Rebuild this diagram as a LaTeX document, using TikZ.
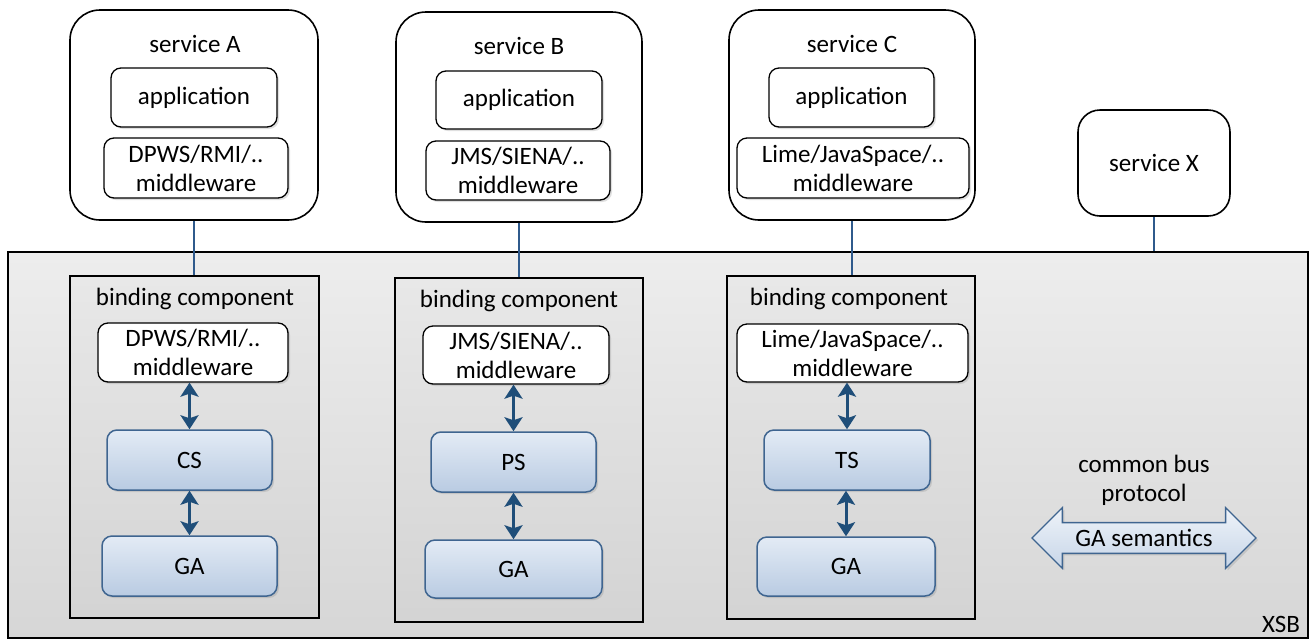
\documentclass[tikz,border=0pt]{standalone}
\usepackage{fontspec}
\setmainfont{Carlito}
\usetikzlibrary{arrows.meta,shapes.arrows,shadows}
\definecolor{linkblue}{HTML}{2F5A8C}
\definecolor{arrowblue}{HTML}{1F4E79}
\definecolor{boxblue}{HTML}{3F6590}
\definecolor{paleblue}{HTML}{E3EBF5}
\definecolor{softblue}{HTML}{B9CBE2}
\tikzset{
	txt/.style={font=\fontsize{25}{29}\selectfont, align=center, inner sep=0pt},
	svc/.style={draw, line width=1.6pt, rounded corners=30pt, fill=white},
	wbox/.style={txt, draw, line width=1.3pt, rounded corners=10pt, fill=white,
		drop shadow={opacity=0.25, shadow xshift=2pt, shadow yshift=-2pt}},
	pbox/.style={txt, draw=boxblue, line width=1.5pt, rounded corners=10pt,
		top color=paleblue, bottom color=softblue,
		drop shadow={opacity=0.25, shadow xshift=2pt, shadow yshift=-2pt}},
	bind/.style={draw, line width=1.5pt, top color=black!9, bottom color=black!17},
	link/.style={draw=linkblue, line width=1.3pt},
	dbl/.style={draw=arrowblue, line width=3pt,
		{Stealth[length=14pt,width=18pt,inset=3pt]}-{Stealth[length=14pt,width=18pt,inset=3pt]}}
}
\begin{document}
\begin{tikzpicture}[x=1pt,y=-1pt]
	\useasboundingbox (0,0) rectangle (1310,641);
%	% Bus
	\node[draw, line width=1.5pt, top color=black!7, bottom color=black!16,
		minimum width=1300, minimum height=386] (xsb) at (658,445) {};
	\node[txt] (xsblabel) at (1281,624) {XSB};
%	% Services
	\node[svc, minimum width=248, minimum height=210] (svcA) at (194,115) {};
	\node[svc, minimum width=246, minimum height=210] (svcB) at (519,117) {};
	\node[svc, minimum width=246, minimum height=210] (svcC) at (852,115) {};
	\node[svc, rounded corners=22pt, minimum width=152, minimum height=106, txt] (svcX) at (1154,163) {service X};
	\node[txt] (svcAlabel) at (195,44) {service A};
	\node[txt] (svcBlabel) at (519,46) {service B};
	\node[txt] (svcClabel) at (852,44) {service C};
	\node[wbox, minimum width=166, minimum height=59] (appA) at (194,97.5) {application};
	\node[wbox, minimum width=166, minimum height=58] (appB) at (519,100) {application};
	\node[wbox, minimum width=165, minimum height=59] (appC) at (851.5,97.5) {application};
	\node[wbox, minimum width=184, minimum height=60] (mwA) at (196,168) {DPWS/RMI/..\\middleware};
	\node[wbox, minimum width=184, minimum height=59] (mwB) at (518,170.5) {JMS/SIENA/..\\middleware};
	\node[wbox, minimum width=232, minimum height=60] (mwC) at (853,168) {Lime/JavaSpace/..\\middleware};
%	% Binding components
	\node[bind, minimum width=249, minimum height=342] (bindA) at (194.5,447) {};
	\node[bind, minimum width=248, minimum height=344] (bindB) at (519,450) {};
	\node[bind, minimum width=248, minimum height=343] (bindC) at (851,447.5) {};
	\node[txt] (bindAlabel) at (195,299) {binding component};
	\node[txt] (bindBlabel) at (519,301) {binding component};
	\node[txt] (bindClabel) at (849,299) {binding component};
	\node[wbox, minimum width=190, minimum height=59] (bmwA) at (193,352.5) {DPWS/RMI/..\\middleware};
	\node[wbox, minimum width=186, minimum height=58] (bmwB) at (516,355) {JMS/SIENA/..\\middleware};
	\node[wbox, minimum width=231, minimum height=58] (bmwC) at (852.5,353) {Lime/JavaSpace/..\\middleware};
	\node[pbox, minimum width=165, minimum height=60] (csA) at (189.5,460) {CS};
	\node[pbox, minimum width=165, minimum height=60] (psB) at (513.5,462) {PS};
	\node[pbox, minimum width=166, minimum height=60] (tsC) at (847,460) {TS};
	\node[pbox, minimum width=175, minimum height=60] (gaA) at (189.5,566) {GA};
	\node[pbox, minimum width=177, minimum height=58] (gaB) at (513.5,569) {GA};
	\node[pbox, minimum width=178, minimum height=59] (gaC) at (846,566.5) {GA};
%	% Links
	\draw[link] (svcA.south) -- (svcA.south |- bindA.north);
	\draw[link] (svcB.south) -- (svcB.south |- bindB.north);
	\draw[link] (svcC.south) -- (svcC.south |- bindC.north);
	\draw[link] (svcX.south) -- (svcX.south |- xsb.north);
	\draw[dbl] (csA.north) -- (csA.north |- bmwA.south);
	\draw[dbl] (gaA.north) -- (gaA.north |- csA.south);
	\draw[dbl] (psB.north) -- (psB.north |- bmwB.south);
	\draw[dbl] (gaB.north) -- (gaB.north |- psB.south);
	\draw[dbl] (tsC.north) -- (tsC.north |- bmwC.south);
	\draw[dbl] (gaC.north) -- (gaC.north |- tsC.south);
%	% Common bus protocol
	\node[txt] (buslabel) at (1144,480) {common bus\\protocol};
	\node[txt, double arrow, draw=boxblue, line width=1.3pt, top color=paleblue!60, bottom color=softblue!80,
		minimum height=224, inner ysep=6pt, double arrow head extend=15pt,
		drop shadow={opacity=0.25, shadow xshift=2pt, shadow yshift=-2pt}] (bus) at (1144,538) {GA semantics};
\end{tikzpicture}
\end{document}
